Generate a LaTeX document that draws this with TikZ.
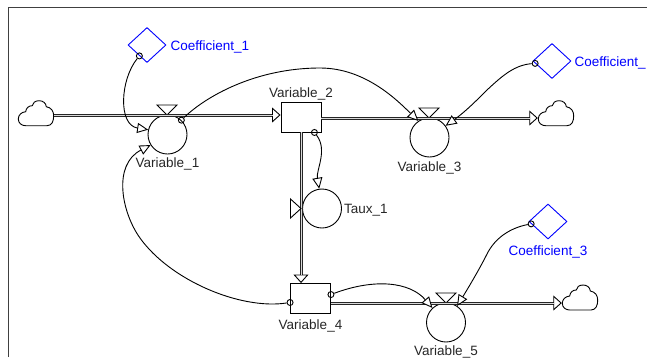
\documentclass[tikz,border=0pt]{standalone}
\usepackage{fontspec}
\setmainfont{Liberation Sans}
\usetikzlibrary{arrows.meta,positioning,shapes.geometric}

\newcommand{\cloudat}[2]{
  \node[cloudbox] (#1) at (#2) {};
  \draw[thick,shift={(#2)}] (-10.3,12.7) -- (11,12.7)
    .. controls (16,12.7) and (17.7,8) .. (17.7,2.7)
    .. controls (17.7,-2) and (15,-5.5) .. (10.3,-6.3)
    .. controls (10,-10) and (7,-12.3) .. (3,-12.3)
    .. controls (-1,-12.3) and (-3.5,-10) .. (-3.7,-7.3)
    .. controls (-7,-7.5) and (-10,-5) .. (-10.3,-1.3)
    .. controls (-14.5,-1) and (-17.7,2) .. (-17.7,6)
    .. controls (-17.7,10) and (-14.5,12.7) .. (-10.3,12.7);
}

\begin{document}
\begin{tikzpicture}[
          x=1pt,y=-1pt,
          thick/.style={line width=.9pt},
          every node/.style={font=\fontsize{13.5pt}{15pt}\selectfont,inner sep=0pt,text=black!85},
          lab/.style={yshift=-1.7pt},
          cloudbox/.style={minimum width=36pt,minimum height=26pt},
          stock/.style={draw,rectangle,thick,minimum width=40pt,minimum height=30pt},
          rate/.style={draw,circle,thick,minimum size=39pt},
          coef/.style={draw=blue,diamond,thick,minimum width=38pt,minimum height=35pt},
          coeflab/.style={lab,text=blue},
          tail/.style={draw,circle,thick,minimum size=6pt},
          flow/.style={line width=3pt,black!85,postaction={draw,black!15,line width=1pt,-,shorten >=8pt},
            -{Triangle[open,fill=white,length=8.5pt,width=15pt,line width=.9pt,black]}},
          link/.style={thick,-{Triangle[open,fill=white,length=11pt,width=10pt,line width=.9pt]}}
        ]
        \useasboundingbox (0,0) rectangle (647,357);

        %frame
        \draw[thick,black!75] (8.5,357) -- (8.5,7) -- (647,7);

        %clouds
        \cloudat{cloud1}{36,113}
        \cloudat{cloud2}{556,113}
        \cloudat{cloud3}{580,297.3}

        %stocks
        \node[stock] (var2) at (301,117) {};
        \node[stock] (var4) at (310.5,298.5) {};
        \node[above of = var2,node distance=25pt,lab] (lab2) {Variable\_2};
        \node[below of = var4,node distance=25.5pt,lab] (lab4) {Variable\_4};

        %rates
        \node[rate] (var1) at (167.5,134.5) {};
        \node[rate] (var3) at (429.5,137.5) {};
        \node[rate] (var5) at (446,322.5) {};
        \node[rate] (taux) at (322,208.5) {};
        \node[below of = var1,node distance=27.5pt,lab] (lab1) {Variable\_1};
        \node[below of = var3,node distance=28.5pt,lab] (lab3) {Variable\_3};
        \node[below of = var5,node distance=27.5pt,lab] (lab5) {Variable\_5};
        \node[right=2pt of taux,lab] (labt) {Taux\_1};

        %coefficients
        \node[coef] (coef1) at (147,45) {};
        \node[coef] (coef2) at (552,61) {};
        \node[coef] (coef3) at (548,221.5) {};
        \node[right=4pt of coef1,coeflab] (labc1) {Coefficient\_1};
        \node[right=3pt of coef2,coeflab] (labc2) {Coefficient\_};
        \node[below of = coef3,node distance=28.5pt,coeflab] (labc3) {Coefficient\_3};

        %valves
        \coordinate (valve1) at (167,115);
        \coordinate (valve3) at (429,118);
        \coordinate (valve5) at (446,303);
        \coordinate (valvet) at (301,208.5);
        \draw[thick] (valve1) -- ++(-10,-10) -- ++(20,0) -- cycle;
        \draw[thick] (valve3) -- ++(-10,-10) -- ++(20,0) -- cycle;
        \draw[thick] (valve5) -- ++(-10,-10) -- ++(20,0) -- cycle;

        %flows
        \draw[flow] (cloud1.east |- valve1) -- (var2.west |- valve1);
        \draw[flow] (var2.east |- valve3) -- (cloud2.west |- valve3);
        \draw[flow] (valvet |- var2.south) -- (valvet |- var4.north);
        \draw[flow] (var4.east |- valve5) -- (cloud3.west |- valve5);
        \draw[thick,fill=white] (valvet) -- ++(-10.5,-9.5) -- ++(0,19) -- cycle;

        %links
        \node[tail] (t1) at (coef1.235) {};
        \node[tail] (t2) at (var1.46) {};
        \node[tail] (t3) at (coef2.188) {};
        \node[tail] (t4) at (var2.-49) {};
        \node[tail] (t5) at (var4.191) {};
        \node[tail] (t6) at (var4.11) {};
        \node[tail] (t7) at (coef3.188) {};
        \draw[link] (t1) .. controls (120,80) and (118,125) .. (var1.166);
        \draw[link] (t2) .. controls (205,97) and (255,68) .. (320,68)
                         .. controls (365,68) and (397,100) .. (var3.124);
        \draw[link] (t3) .. controls (515,65) and (503,75) .. (487,90)
                         .. controls (477,100) and (465,112) .. (var3.36);
        \draw[link] (t4) .. controls (328,150) and (316,170) .. (taux.98);
        \draw[link] (t5) .. controls (240,310) and (170,280) .. (140,238)
                         .. controls (122,213) and (112,165) .. (var1.212);
        \draw[link] (t6) .. controls (375,278) and (410,282) .. (var5.133);
        \draw[link] (t7) .. controls (510,228) and (495,238) .. (487,254)
                         .. controls (480,268) and (470,285) .. (var5.56);
    \end{tikzpicture}
\end{document}
